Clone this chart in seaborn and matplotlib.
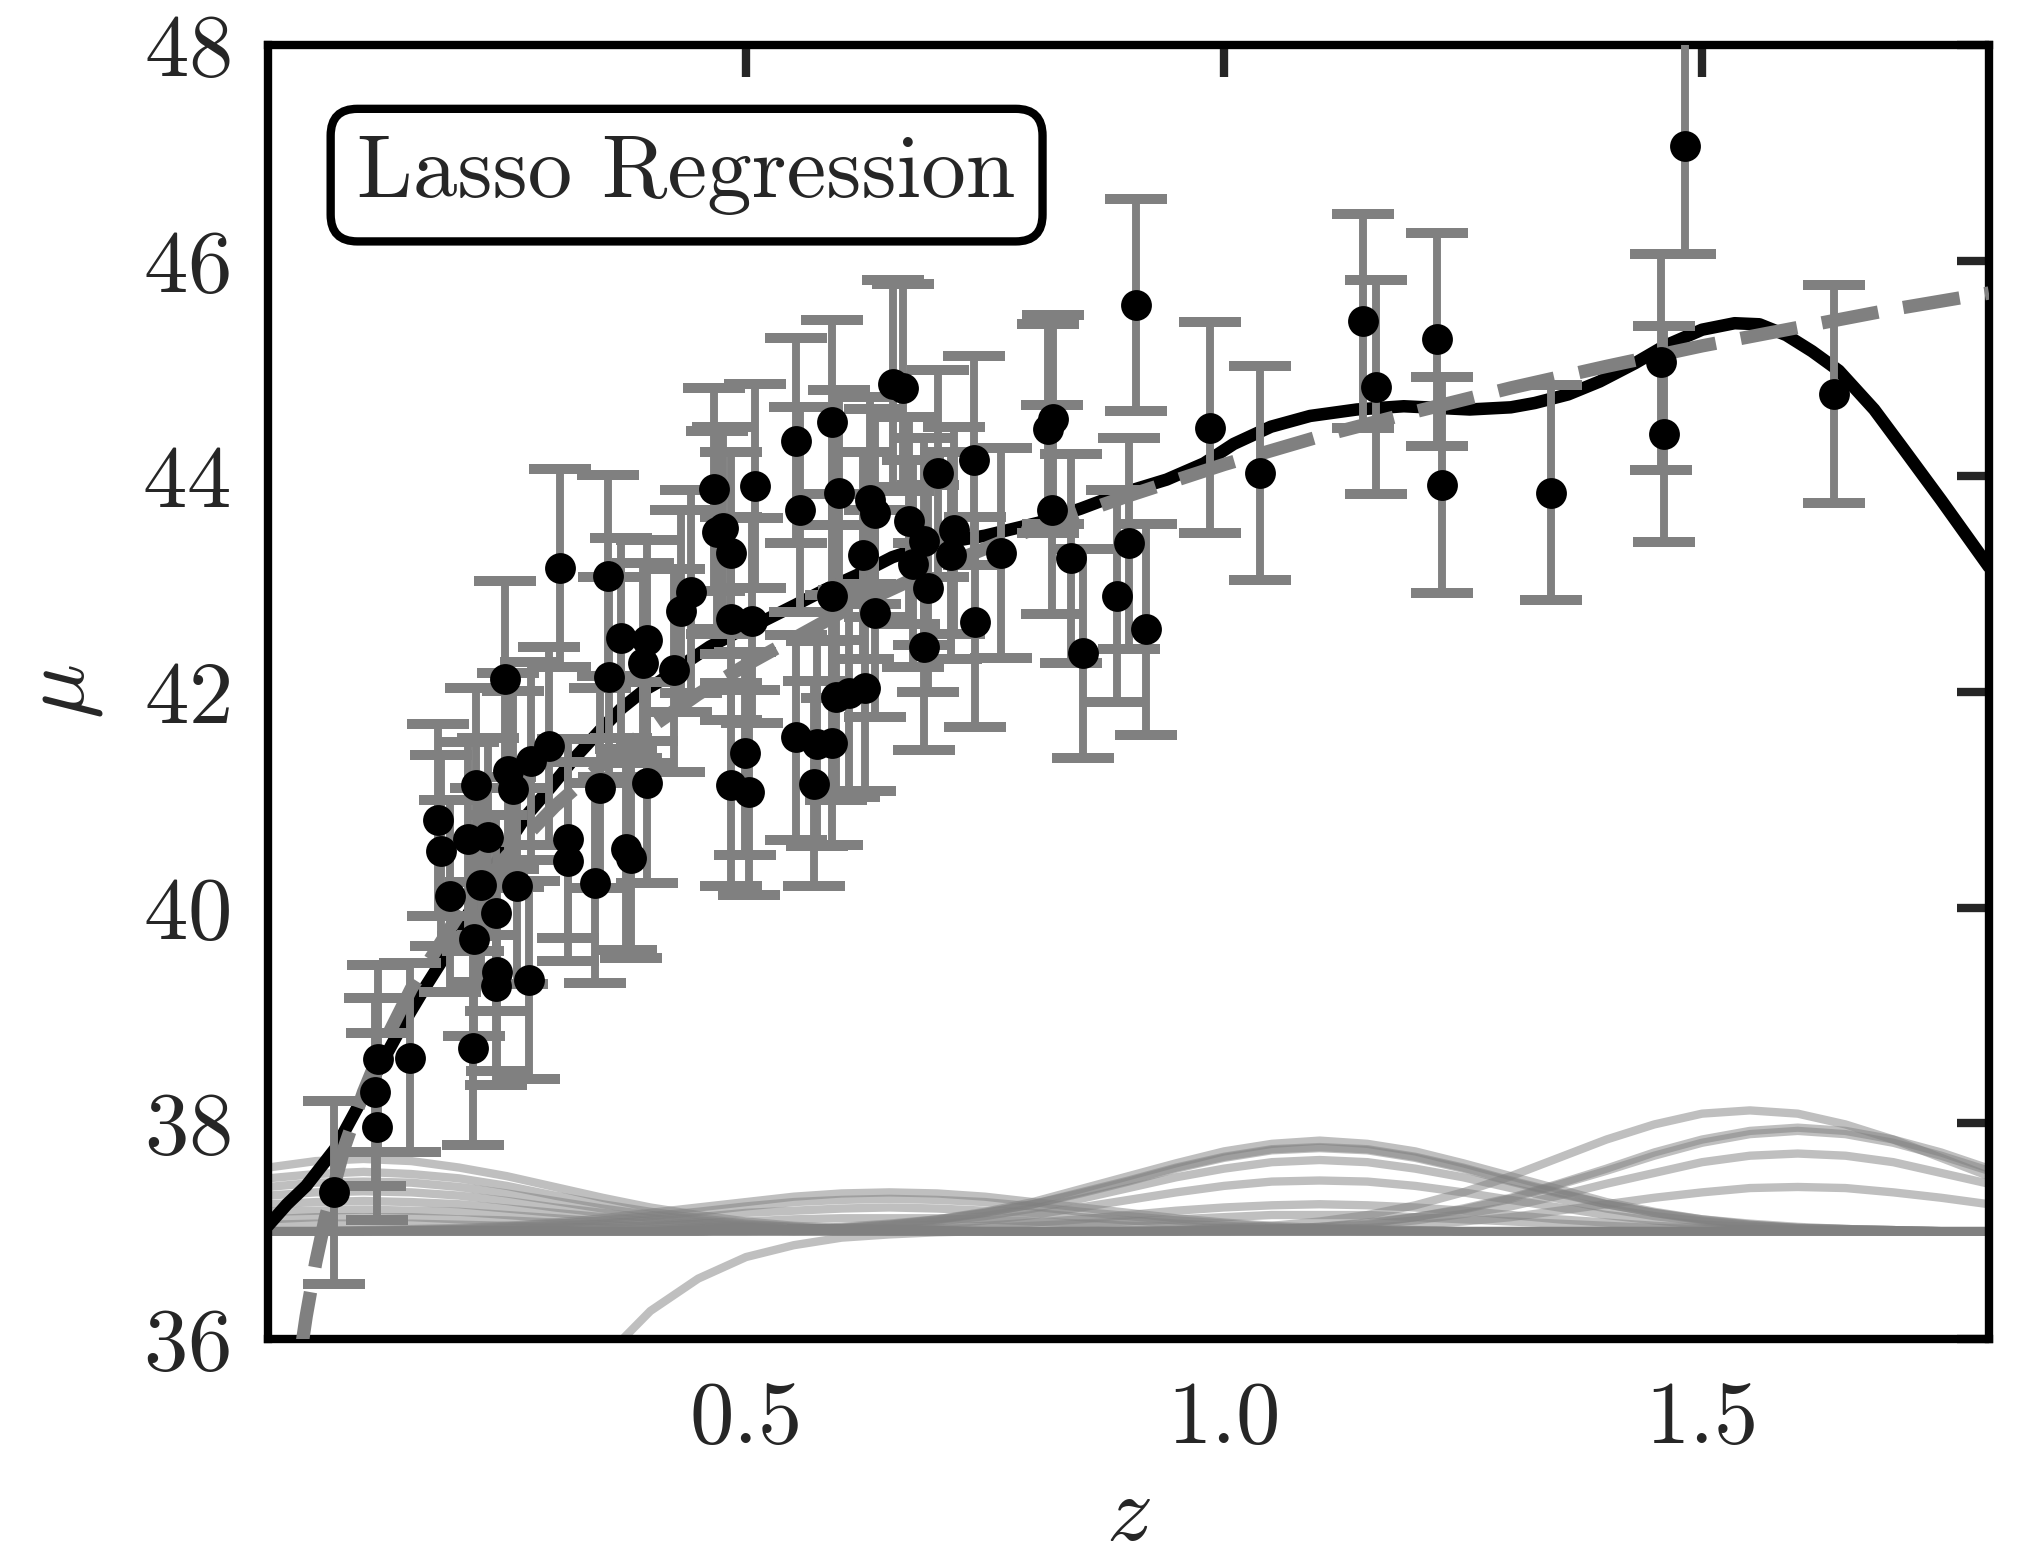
import numpy as np
import pandas as pd
import matplotlib
matplotlib.use("Agg")
import matplotlib.pyplot as plt
import seaborn as sns

# ---------------- data ----------------
z_data = [0.069, 0.114, 0.112, 0.115, 0.149, 0.214, 0.216, 0.240, 0.239, 0.273,
          0.190, 0.223, 0.239, 0.261, 0.178, 0.181, 0.209, 0.230, 0.218, 0.251,
          0.256, 0.275, 0.294, 0.248, 0.305, 0.314, 0.314, 0.342, 0.347, 0.357,
          0.356, 0.369, 0.374, 0.380, 0.392, 0.396, 0.397, 0.425, 0.432, 0.442,
          0.467, 0.470, 0.476, 0.484, 0.484, 0.506, 0.509, 0.484, 0.503, 0.499,
          0.552, 0.557, 0.552, 0.574, 0.590, 0.571, 0.590, 0.590, 0.597, 0.594,
          0.608, 0.624, 0.622, 0.630, 0.635, 0.635, 0.654, 0.664, 0.670, 0.675,
          0.686, 0.690, 0.686, 0.701, 0.714, 0.718, 0.738, 0.740, 0.767, 0.816,
          0.821, 0.820, 0.840, 0.852, 0.888, 0.901, 0.908, 0.918, 0.985, 1.038,
          1.145, 1.159, 1.223, 1.228, 1.342, 1.457, 1.460, 1.482, 1.638]
mu_data = [37.36, 37.97, 38.29, 38.60, 38.61, 38.70, 39.71, 39.40, 39.27, 39.33,
           40.11, 40.21, 39.95, 40.20, 40.81, 40.53, 40.64, 40.66, 41.14, 41.27,
           41.10, 41.36, 41.50, 42.12, 43.15, 40.64, 40.43, 40.23, 41.11, 42.14,
           43.08, 42.50, 40.54, 40.46, 42.27, 42.48, 41.16, 42.20, 42.75, 42.93,
           43.88, 43.48, 43.52, 43.29, 42.68, 42.66, 43.91, 41.14, 41.07, 41.43,
           44.33, 43.69, 41.58, 41.52, 41.53, 41.15, 44.50, 42.89, 43.85, 41.95,
           41.99, 42.04, 43.27, 43.78, 43.66, 42.73, 44.86, 44.82, 43.59, 43.19,
           43.40, 42.96, 42.42, 44.03, 43.27, 43.50, 44.15, 42.65, 43.29, 44.44,
           44.53, 43.69, 43.24, 42.36, 42.89, 43.38, 45.59, 42.58, 44.45, 44.03,
           45.44, 44.83, 45.27, 43.92, 43.85, 45.06, 44.39, 47.06, 44.76]
dmu_data = [0.85, 0.87, 0.87, 0.87, 0.88, 0.90, 0.90, 0.91, 0.91, 0.92,
            0.89, 0.90, 0.91, 0.91, 0.89, 0.89, 0.90, 0.91, 0.90, 0.91,
            0.91, 0.92, 0.92, 0.91, 0.92, 0.92, 0.92, 0.93, 0.93, 0.93,
            0.93, 0.93, 0.93, 0.93, 0.93, 0.93, 0.93, 0.94, 0.94, 0.94,
            0.94, 0.94, 0.94, 0.94, 0.94, 0.95, 0.95, 0.94, 0.95, 0.94,
            0.95, 0.95, 0.95, 0.95, 0.95, 0.95, 0.95, 0.95, 0.95, 0.95,
            0.96, 0.96, 0.96, 0.96, 0.96, 0.96, 0.96, 0.96, 0.96, 0.96,
            0.96, 0.96, 0.96, 0.96, 0.96, 0.96, 0.97, 0.97, 0.97, 0.97,
            0.97, 0.97, 0.97, 0.97, 0.98, 0.98, 0.98, 0.98, 0.98, 0.99,
            0.99, 0.99, 0.99, 1.00, 1.00, 1.00, 1.00, 1.00, 1.01]

# true distance modulus (gray dashed)
true_z = [0.035, 0.04, 0.05, 0.06, 0.08, 0.10, 0.12, 0.15, 0.20, 0.25, 0.30, 0.35,
          0.40, 0.45, 0.50, 0.60, 0.70, 0.80, 0.90, 1.00, 1.10, 1.20, 1.30, 1.40,
          1.50, 1.60, 1.70, 1.80]
true_mu = [35.91, 36.21, 36.71, 37.12, 37.78, 38.29, 38.72, 39.25, 39.94, 40.48,
           40.94, 41.33, 41.67, 41.98, 42.25, 42.74, 43.15, 43.51, 43.82, 44.11,
           44.37, 44.60, 44.82, 45.02, 45.21, 45.38, 45.55, 45.70]

# lasso fit (black line)
fit_z = [0.0, 0.02, 0.04, 0.07, 0.10, 0.14, 0.165, 0.185, 0.21, 0.244, 0.27, 0.296,
         0.32, 0.348, 0.37, 0.394, 0.41, 0.435, 0.462, 0.49, 0.514, 0.55, 0.583,
         0.62, 0.653, 0.68, 0.705, 0.75, 0.806, 0.85, 0.892, 0.94, 0.979, 1.01,
         1.049, 1.09, 1.139, 1.188, 1.257, 1.30, 1.325, 1.36, 1.393, 1.43, 1.461,
         1.50, 1.534, 1.56, 1.588, 1.615, 1.643, 1.68, 1.711, 1.75, 1.80]
fit_mu = [37.05, 37.25, 37.42, 37.76, 38.25, 38.90, 39.27, 39.55, 39.95, 40.50,
          40.85, 41.12, 41.38, 41.65, 41.85, 42.02, 42.10, 42.26, 42.42, 42.55,
          42.64, 42.80, 42.95, 43.10, 43.25, 43.33, 43.38, 43.45, 43.57, 43.70,
          43.84, 43.97, 44.12, 44.30, 44.46, 44.56, 44.62, 44.65, 44.62, 44.64,
          44.68, 44.76, 44.88, 45.05, 45.21, 45.36, 45.42, 45.41, 45.31, 45.16,
          44.98, 44.62, 44.25, 43.78, 43.16]

# weighted basis functions drawn near mu = 37
curve_z = np.linspace(0.0, 1.8, 37)
basis_L1 = [37.59, 37.65, 37.67, 37.65, 37.59, 37.51, 37.41, 37.31, 37.22, 37.15, 37.09, 37.05, 37.03, 37.02, 37.01, 37.0] + [37.0] * 21
basis_L2 = [37.49, 37.53, 37.55, 37.53, 37.49, 37.42, 37.33, 37.25, 37.18, 37.12, 37.07, 37.04, 37.02, 37.01, 37.01] + [37.0] * 22
basis_L3 = [37.41, 37.45, 37.46, 37.45, 37.41, 37.35, 37.28, 37.21, 37.15, 37.10, 37.06, 37.04, 37.02, 37.01] + [37.0] * 23
basis_L4 = [37.33, 37.36, 37.37, 37.36, 37.33, 37.28, 37.22, 37.17, 37.12, 37.08, 37.05, 37.03, 37.02, 37.01] + [37.0] * 23
basis_L5 = [37.25, 37.27, 37.28, 37.27, 37.25, 37.21, 37.17, 37.13, 37.09, 37.06, 37.04, 37.02, 37.01] + [37.0] * 24
basis_L6 = [37.18, 37.19, 37.20, 37.19, 37.18, 37.15, 37.12, 37.09, 37.07, 37.04, 37.03, 37.02, 37.01] + [37.0] * 24
basis_L7 = [37.11, 37.13, 37.13, 37.13, 37.11, 37.10, 37.08, 37.06, 37.04, 37.03, 37.02, 37.01] + [37.0] * 25
basis_L8 = [37.06, 37.07, 37.07, 37.07, 37.06, 37.05, 37.04, 37.03, 37.02, 37.02, 37.01] + [37.0] * 26
basis_N1 = [31.5, 31.67, 32.14, 32.85, 33.66, 34.48, 35.21, 35.81, 36.26, 36.56, 36.76, 36.87, 36.94, 36.97, 36.99] + [37.0] * 22
basis_M1 = [37.0, 37.0, 37.01, 37.02, 37.03, 37.05, 37.08, 37.12, 37.17, 37.22, 37.27, 37.32, 37.35, 37.36, 37.35, 37.32, 37.27, 37.22, 37.17, 37.12, 37.08, 37.05, 37.03, 37.02, 37.01] + [37.0] * 12
basis_M2 = [37.0, 37.0, 37.01, 37.01, 37.02, 37.04, 37.07, 37.10, 37.14, 37.18, 37.23, 37.27, 37.29, 37.30, 37.29, 37.27, 37.23, 37.18, 37.14, 37.10, 37.07, 37.04, 37.02, 37.01, 37.01] + [37.0] * 12
basis_M3 = [37.0, 37.0, 37.0, 37.01, 37.02, 37.03, 37.05, 37.07, 37.10, 37.13, 37.17, 37.19, 37.21, 37.22, 37.21, 37.19, 37.17, 37.13, 37.10, 37.07, 37.05, 37.03, 37.02, 37.01] + [37.0] * 13
basis_M4 = [37.0, 37.0, 37.0, 37.01, 37.01, 37.02, 37.03, 37.04, 37.05, 37.07, 37.09, 37.11, 37.12, 37.12, 37.12, 37.11, 37.09, 37.07, 37.05, 37.04, 37.03, 37.02, 37.01] + [37.0] * 14
basis_R1 = [37.0] * 10 + [37.01, 37.02, 37.04, 37.07, 37.11, 37.18, 37.27, 37.39, 37.51, 37.63, 37.74, 37.81, 37.84, 37.81, 37.74, 37.63, 37.51, 37.39, 37.27, 37.18, 37.11, 37.07, 37.04, 37.02, 37.01] + [37.0] * 2
basis_R2 = [37.0] * 10 + [37.01, 37.02, 37.03, 37.06, 37.11, 37.17, 37.25, 37.36, 37.47, 37.59, 37.69, 37.76, 37.78, 37.76, 37.69, 37.59, 37.47, 37.36, 37.25, 37.17, 37.11, 37.06, 37.03, 37.02, 37.01] + [37.0] * 2
basis_R2b = [37.0] * 10 + [37.01, 37.02, 37.03, 37.06, 37.10, 37.17, 37.25, 37.35, 37.46, 37.58, 37.68, 37.75, 37.77, 37.75, 37.68, 37.58, 37.46, 37.35, 37.25, 37.17, 37.10, 37.06, 37.03, 37.02, 37.01] + [37.0] * 2
basis_R3 = [37.0] * 10 + [37.01, 37.02, 37.03, 37.05, 37.09, 37.14, 37.21, 37.30, 37.40, 37.50, 37.58, 37.64, 37.66, 37.64, 37.58, 37.50, 37.40, 37.30, 37.21, 37.14, 37.09, 37.05, 37.03, 37.02, 37.01] + [37.0] * 2
basis_R4 = [37.0] * 10 + [37.01, 37.01, 37.02, 37.04, 37.06, 37.10, 37.15, 37.22, 37.29, 37.36, 37.42, 37.46, 37.47, 37.46, 37.42, 37.36, 37.29, 37.22, 37.15, 37.10, 37.06, 37.04, 37.02, 37.01, 37.01] + [37.0] * 2
basis_R5 = [37.0] * 10 + [37.0, 37.01, 37.01, 37.02, 37.03, 37.05, 37.08, 37.11, 37.15, 37.19, 37.22, 37.24, 37.25, 37.24, 37.22, 37.19, 37.15, 37.11, 37.08, 37.05, 37.03, 37.02, 37.01, 37.01, 37.0] + [37.0] * 2
basis_R6 = [37.0] * 10 + [37.0, 37.0, 37.01, 37.01, 37.02, 37.03, 37.05, 37.07, 37.09, 37.11, 37.13, 37.15, 37.15, 37.15, 37.13, 37.11, 37.09, 37.07, 37.05, 37.03, 37.02, 37.01, 37.01, 37.0, 37.0] + [37.0] * 2
basis_S1 = [37.0] * 18 + [37.01, 37.01, 37.03, 37.05, 37.09, 37.15, 37.24, 37.36, 37.51, 37.68, 37.85, 37.99, 38.09, 38.12, 38.09, 37.99, 37.85, 37.68, 37.51]
basis_S2 = [37.0] * 19 + [37.01, 37.01, 37.02, 37.04, 37.08, 37.13, 37.21, 37.31, 37.44, 37.58, 37.73, 37.85, 37.93, 37.96, 37.93, 37.85, 37.73, 37.58]
basis_S3 = [37.0] * 20 + [37.01, 37.02, 37.04, 37.07, 37.13, 37.20, 37.30, 37.43, 37.56, 37.70, 37.82, 37.90, 37.93, 37.90, 37.82, 37.70, 37.56]
basis_S4 = [37.0] * 20 + [37.01, 37.02, 37.03, 37.06, 37.10, 37.16, 37.23, 37.33, 37.44, 37.54, 37.64, 37.70, 37.72, 37.70, 37.64, 37.54, 37.44]
basis_S5 = [37.0] * 21 + [37.01, 37.02, 37.03, 37.06, 37.09, 37.13, 37.19, 37.25, 37.31, 37.36, 37.40, 37.41, 37.40, 37.36, 37.31, 37.25]
basis_flat = [37.0] * 37

basis_curves = [basis_L1, basis_L2, basis_L3, basis_L4, basis_L5, basis_L6, basis_L7, basis_L8,
                basis_N1, basis_M1, basis_M2, basis_M3, basis_M4,
                basis_R1, basis_R2, basis_R2b, basis_R3, basis_R4, basis_R5, basis_R6,
                basis_S1, basis_S2, basis_S3, basis_S4, basis_S5,
                basis_flat, basis_flat, basis_flat]

x_ticks = [0.5, 1.0, 1.5]
x_tick_labels = ["0.5", "1.0", "1.5"]
y_ticks = [36, 38, 40, 42, 44, 46, 48]
label_text = "Lasso Regression"

# ---------------- style ----------------
sns.set_style("white")
plt.rcParams.update({
    "font.family": ["cmr10", "DejaVu Serif"],
    "mathtext.fontset": "cm",
    "axes.formatter.use_mathtext": True,
    "axes.unicode_minus": False,
})

fig = plt.figure(figsize=(2019 / 300, 1557 / 300), dpi=300)
ax = fig.add_axes([0.1327, 0.1400, 0.8524, 0.8311])

# basis curves
for vals in basis_curves:
    sns.lineplot(x=curve_z, y=vals, ax=ax, color="gray", lw=2.0, alpha=0.5,
                 zorder=1, estimator=None, sort=False)

# lasso fit
sns.lineplot(x=fit_z, y=fit_mu, ax=ax, color="black", lw=3.0, zorder=3,
             estimator=None, sort=False)

# true curve
sns.lineplot(x=true_z, y=true_mu, ax=ax, color="gray", lw=3.2, zorder=3.5,
             estimator=None, sort=False)
ax.lines[-1].set_dashes((4.3, 1.9))

# data with errors
ax.errorbar(z_data, mu_data, yerr=dmu_data, fmt="none", ecolor="gray",
            elinewidth=1.9, capsize=7.5, capthick=2.4, zorder=4)
sns.scatterplot(x=z_data, y=mu_data, ax=ax, color="black", s=7.4 ** 2,
                linewidth=0, zorder=5)

ax.text(0.052, 0.93, label_text, transform=ax.transAxes, ha="left", va="top",
        fontsize=21.4, zorder=6,
        bbox=dict(boxstyle="round,pad=0.3", ec="k", fc="w", lw=2.0))

ax.set_xlim(0.0, 1.8)
ax.set_ylim(36, 48)
ax.set_xticks(x_ticks)
ax.set_xticklabels(x_tick_labels)
ax.set_yticks(y_ticks)
ax.tick_params(direction="in", length=7.7, width=2.0, top=True, right=True,
               labelsize=21.3)
ax.tick_params(axis="x", pad=10)
ax.tick_params(axis="y", pad=9)
for sp in ax.spines.values():
    sp.set_linewidth(2.0)
    sp.set_color("black")

ax.set_xlabel(r"$z$", fontsize=22, labelpad=4)
ax.set_ylabel(r"$\mu$", fontsize=22, labelpad=9)

fig.savefig("out.png", dpi=300)
